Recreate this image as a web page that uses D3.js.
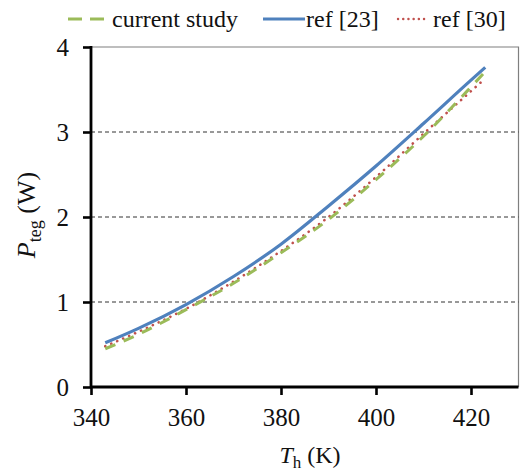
<!DOCTYPE html>
<html>
<head>
<meta charset="utf-8">
<script src="https://cdn.jsdelivr.net/npm/d3@7"></script>
</head>
<body style="margin:0">
<svg id="chart" width="525" height="472" font-family="Liberation Serif"></svg>
<script>
// Hot-side temperature (K) and TEG output power (W)
const tempCurrent = [343, 350, 360, 370, 380, 390, 400, 410, 420, 423];
const powerCurrent = [0.45, 0.62, 0.91, 1.22, 1.58, 1.97, 2.44, 2.95, 3.53, 3.71];

const tempRef23 = [343, 350, 360, 370, 380, 390, 400, 410, 420, 423];
const powerRef23 = [0.52, 0.69, 0.97, 1.30, 1.68, 2.13, 2.60, 3.10, 3.61, 3.76];

const tempRef30 = [343, 350, 360, 370, 380, 390, 400, 410, 420, 422];
const powerRef30 = [0.48, 0.65, 0.92, 1.24, 1.60, 2.00, 2.47, 2.98, 3.48, 3.58];

const xTicks = [340, 360, 380, 400, 420];
const yTicks = [0, 1, 2, 3, 4];
const gridValues = [1, 2, 3];

const seriesNames = ["current study", "ref [23]", "ref [30]"];

const svg = d3.select("#chart");
const plotLeft = 91, plotRight = 518.5, plotTop = 47, plotBottom = 387;

// every label uses the serif face
function serif(sel, size) {
  return sel.attr("font-family", "Liberation Serif")
    .style("font-family", '"Liberation Serif"')
    .attr("font-size", size);
}

const x = d3.scaleLinear().domain([340, 430]).range([plotLeft, plotRight]);
const y = d3.scaleLinear().domain([0, 4]).range([plotBottom, plotTop]);

// plot frame: thin top/right edges
svg.append("path")
  .attr("d", `M${plotLeft},${plotTop}H${plotRight}V${plotBottom}`)
  .attr("fill", "none")
  .attr("stroke", "#7f7f7f")
  .attr("stroke-width", 1.2);

// dashed horizontal gridlines
svg.append("g").selectAll("line")
  .data(gridValues)
  .join("line")
  .attr("x1", plotLeft).attr("x2", plotRight)
  .attr("y1", d => y(d)).attr("y2", d => y(d))
  .attr("stroke", "#333")
  .attr("stroke-width", 1)
  .attr("stroke-dasharray", "4,3");

// axes
const yAxis = svg.append("g")
  .attr("transform", `translate(${plotLeft},0)`)
  .call(d3.axisLeft(y).tickValues(yTicks).tickSize(8).tickPadding(14).tickFormat(d3.format("d")));
const xAxis = svg.append("g")
  .attr("transform", `translate(0,${plotBottom})`)
  .call(d3.axisBottom(x).tickValues(xTicks).tickSize(8).tickPadding(13).tickFormat(d3.format("d")));

[yAxis, xAxis].forEach(g => {
  serif(g, 25);
  g.select(".domain").remove();
  g.selectAll(".tick line").attr("stroke", "#000").attr("stroke-width", 2.6);
  serif(g.selectAll(".tick text"), 25).attr("fill", "#111");
});
yAxis.selectAll(".tick text").attr("dy", "0.34em");
xAxis.selectAll(".tick text").attr("dy", "0.72em");

svg.append("line")
  .attr("x1", plotLeft).attr("x2", plotLeft).attr("y1", plotTop - 1).attr("y2", plotBottom + 1)
  .attr("stroke", "#000").attr("stroke-width", 2.8);
svg.append("line")
  .attr("x1", plotLeft - 1).attr("x2", plotRight).attr("y1", plotBottom).attr("y2", plotBottom)
  .attr("stroke", "#000").attr("stroke-width", 2.8);

// series
const line = d3.line().x(d => x(d[0])).y(d => y(d[1])).curve(d3.curveMonotoneX);
const zip = (a, b) => a.map((v, i) => [v, b[i]]);

const styles = [
  { data: zip(tempRef30, powerRef30), color: "#c0504d", width: 2.6, dash: "0.1,6.4", cap: "round" },
  { data: zip(tempCurrent, powerCurrent), color: "#9bbb59", width: 3, dash: "11,9", cap: "butt" },
  { data: zip(tempRef23, powerRef23), color: "#4f81bd", width: 3.2, dash: null, cap: "butt" }
];

svg.append("g").selectAll("path")
  .data(styles)
  .join("path")
  .attr("d", d => line(d.data))
  .attr("fill", "none")
  .attr("stroke", d => d.color)
  .attr("stroke-width", d => d.width)
  .attr("stroke-dasharray", d => d.dash)
  .attr("stroke-linecap", d => d.cap);

// legend
const legend = svg.append("g");
const legendY = 19;
const addLegendText = (xPos, label) => serif(legend.append("text"), 24)
  .attr("x", xPos).attr("y", 27).attr("fill", "#111")
  .text(label);
legend.append("line").attr("x1", 68).attr("x2", 104).attr("y1", legendY).attr("y2", legendY)
  .attr("stroke", "#9bbb59").attr("stroke-width", 3).attr("stroke-dasharray", "14,8");
addLegendText(112, seriesNames[0]);
legend.append("line").attr("x1", 263).attr("x2", 305).attr("y1", legendY).attr("y2", legendY)
  .attr("stroke", "#4f81bd").attr("stroke-width", 3.2);
addLegendText(306, seriesNames[1]);
legend.append("line").attr("x1", 398).attr("x2", 429).attr("y1", legendY).attr("y2", legendY)
  .attr("stroke", "#c0504d").attr("stroke-width", 2.4).attr("stroke-dasharray", "0.1,5.1").attr("stroke-linecap", "round");
addLegendText(433, seriesNames[2]);

// axis titles
const yTitle = serif(svg.append("text"), 26)
  .attr("transform", "translate(35,215) rotate(-90)")
  .attr("text-anchor", "middle")
  .attr("fill", "#111");
yTitle.append("tspan").attr("font-style", "italic").text("P");
yTitle.append("tspan").attr("dy", 6).attr("font-size", 18).text("teg");
yTitle.append("tspan").attr("dy", -6).text(" (W)");

const xTitle = serif(svg.append("text"), 24)
  .attr("x", 310).attr("y", 463)
  .attr("text-anchor", "middle")
  .attr("fill", "#111");
xTitle.append("tspan").attr("font-style", "italic").text("T");
xTitle.append("tspan").attr("dy", 5).attr("font-size", 17).text("h");
xTitle.append("tspan").attr("dy", -5).text(" (K)");
</script>
</body>
</html>
